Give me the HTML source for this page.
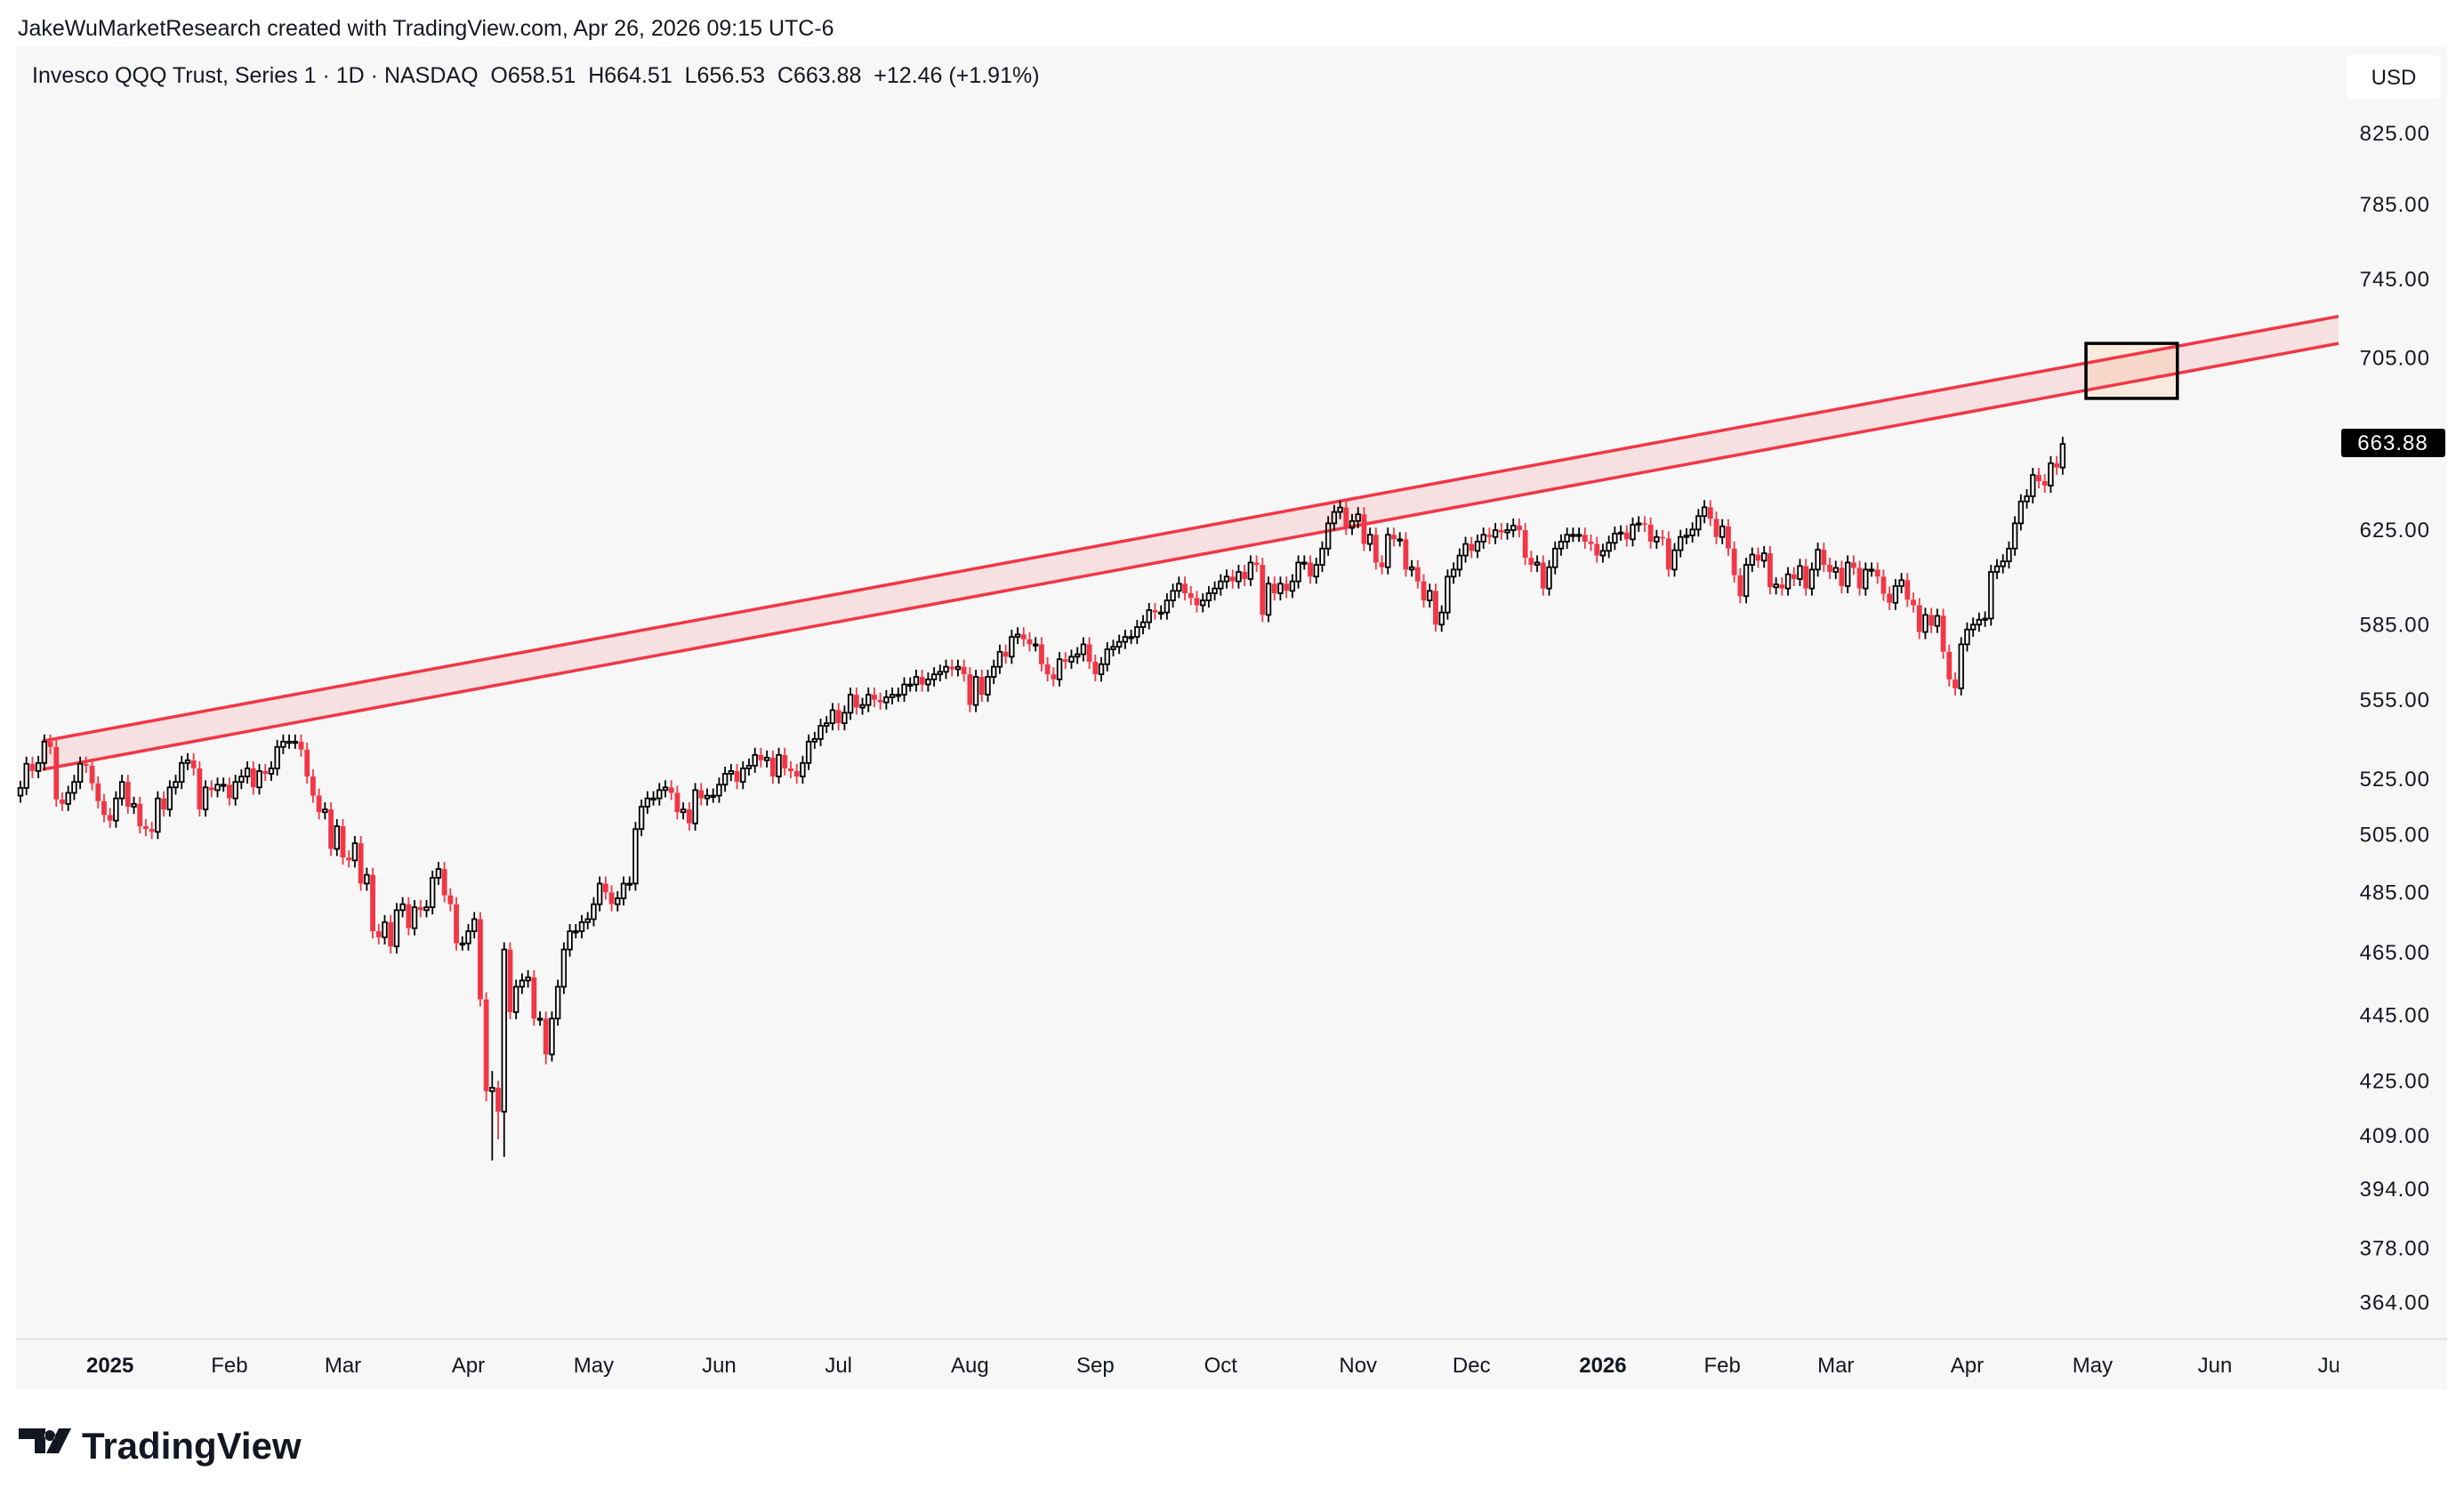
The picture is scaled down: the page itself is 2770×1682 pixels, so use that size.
<!DOCTYPE html>
<html><head><meta charset="utf-8"><style>
html,body{margin:0;padding:0;background:#fff;}
svg{display:block;font-family:"Liberation Sans",sans-serif;}
</style></head><body>
<svg id="chart" width="2770" height="1682" viewBox="0 0 2770 1682" xmlns="http://www.w3.org/2000/svg">
<defs><clipPath id="plotclip"><rect x="18" y="53" width="2611" height="1452"/></clipPath>
<clipPath id="timeclip"><rect x="18" y="1505" width="2611" height="57"/></clipPath></defs>
<text x="20" y="40" font-size="25" fill="#131722">JakeWuMarketResearch created with TradingView.com, Apr 26, 2026 09:15 UTC-6</text>
<rect x="18" y="53" width="2733" height="1509" fill="#f7f7f7"/>
<line x1="18" y1="1505.5" x2="2751" y2="1505.5" stroke="#e0e3eb" stroke-width="2"/>
<text x="36" y="93" font-size="25" fill="#131722" style="white-space:pre" xml:space="preserve">Invesco QQQ Trust, Series 1 · 1D · NASDAQ  O658.51  H664.51  L656.53  C663.88  +12.46 (+1.91%)</text>
<g><rect x="2638" y="62" width="106" height="49" rx="6" fill="#fff"/>
<text x="2691" y="95" font-size="24" fill="#131722" text-anchor="middle">USD</text></g>
<g id="ticks"></g><g id="timelabels" clip-path="url(#timeclip)"></g>
<g id="plot" clip-path="url(#plotclip)"></g>
<g><rect x="2632" y="482" width="117" height="32" rx="3" fill="#000"/>
<text id="lastlbl" x="2690" y="506" font-size="24" fill="#fff" text-anchor="middle" letter-spacing="1">663.88</text></g>
<g>
<path d="M21 1606h30v28h-12v-16h-18z M56 1608a6 6 0 1 0 0.1 0z M66 1606h14l-14 28h-14z" fill="#131722"/>
<text x="92" y="1640" font-size="42" font-weight="bold" fill="#131722">TradingView</text></g>
</svg>
<script>
const tickValues=[825,785,745,705,625,585,555,525,505,485,465,445,425,409,394,378,364];
const monthLabels=["2025","Feb","Mar","Apr","May","Jun","Jul","Aug","Sep","Oct","Nov","Dec","2026","Feb","Mar","Apr","May","Jun","Jul"];
const monthStartIndex=[15,35,54,75,96,117,137,159,180,201,224,243,265,285,304,326,347,367.5,387];
const boldLabels=["2025","2026"];
const closes=[
521.8,530.7,528,531,539,537,517.6,516,520,524,530.7,530,523.5,517,512,
510,518,524,515,516,508,507,506,518,514,522,524,531,532,529,514,522,521,523,523,
518,524,526,529,522,528,527,529,537,539,539,539,536,526,519,513,514,500,508,
497,496,502,488,491,472,470,475,467,479,481,473,480,479,480,490,493,484,481,468,468,
472,476,450,422,423,416,466,446,454,456,457,444,444,433,444,454,466,472,472,475,476,
481,488,485,481,483,488,488,507,515,518,518,521,522,520,513,514,509,521,518,519,519,
523,527,528,524,529,530,534,532,533,526,534,529,528,526,531,539,540,545,546,551,
546,550,557,552,553,557,555,554,556,557,557,561,561,564,561,563,565,566,568,567,568,565,
553,564,557,564,568,574,572,580,581,579,577,577,569,565,563,571,570,572,573,577,570,
565,569,575,576,578,580,580,584,586,591,590,590,595,599,602,598,596,593,595,598,600,
603,605,603,607,604,611,610,589,602,598,602,599,603,611,611,605,610,617,628,633,635,626,629,
632,619,623,611,609,623,621,621,608,609,603,595,599,585,590,605,608,614,619,
616,620,623,622,625,624,625,627,625,613,610,611,600,609,617,620,623,623,623,620,619,614,
616,619.5,623.5,624,621,627.4,628,627.4,620,622,621.4,608,616.3,622,622.7,625.3,631.2,635.1,630,622,
626.7,617,605.6,596.8,610,614.4,611.8,615,600.5,601.7,600,606,604,609.5,600,608,616.5,610,607,
608.7,601,611,608.7,600,608,608,605,597.8,594,601,603.5,595.3,593,582,589,584.5,588.6,574,563,559.5,577,
583,585,587,587.5,607,609.4,611.5,617,628,637.7,640,649.6,646.8,644.8,655,653,663.88];
const firstOpen=[519];
const extremeLowIdx=[78,79,80,81,88];
const extremeLowVal=[419,402,408,403,430];
const extremeHighIdx=[79,81];
const extremeHighVal=[428,467];
const upperLine=[[3.7,539.2],[388.2,725.9]];
const lowerLine=[[3.7,528.6],[388.2,712.3]];
const targetBox=[[345.9,712.3],[361.2,685.4]];

const NS="http://www.w3.org/2000/svg";
const X0=23, STEP=6.713, Y825=150.2, K=1606;
function xs(i){return X0+i*STEP;}
function ys(p){return Y825+(Math.log(825)-Math.log(p))*K;}
function mk(tag,attrs,parent){const e=document.createElementNS(NS,tag);for(const k in attrs)e.setAttribute(k,attrs[k]);parent.appendChild(e);return e;}
const ticksG=document.getElementById('ticks'), timeG=document.getElementById('timelabels'), plot=document.getElementById('plot');
tickValues.forEach(v=>{const t=mk('text',{x:2732,y:ys(v)+8,'font-size':24,fill:'#131722','text-anchor':'end','letter-spacing':1},ticksG);t.textContent=v.toFixed(2);

});
monthLabels.forEach((m,j)=>{const t=mk('text',{x:xs(monthStartIndex[j]),y:1543,'font-size':24,fill:'#131722','text-anchor':'middle','font-weight':boldLabels.includes(m)?'bold':'normal'},timeG);t.textContent=m;

});
const uy0=ys(upperLine[0][1]),uy1=ys(upperLine[1][1]),ly0=ys(lowerLine[0][1]),ly1=ys(lowerLine[1][1]);
const ux0=xs(upperLine[0][0]),ux1=xs(upperLine[1][0]);
const band=mk('polygon',{points:`${ux0},${uy0} ${ux1},${uy1} ${ux1},${ly1} ${ux0},${ly0}`,fill:'rgba(242,54,69,0.12)'},plot);


const bx0=xs(targetBox[0][0]),bx1=xs(targetBox[1][0]),by0=ys(targetBox[0][1]),by1=ys(targetBox[1][1]);
const box=mk('rect',{x:bx0,y:by0,width:bx1-bx0,height:by1-by0,fill:'rgba(255,170,80,0.16)'},plot);


const ul=mk('line',{x1:ux0,y1:uy0,x2:ux1,y2:uy1,stroke:'#f23645','stroke-width':3.5},plot);


const ll=mk('line',{x1:xs(lowerLine[0][0]),y1:ly0,x2:xs(lowerLine[1][0]),y2:ly1,stroke:'#f23645','stroke-width':3.5},plot);


const bb=mk('rect',{x:bx0,y:by0,width:bx1-bx0,height:by1-by0,fill:'none',stroke:'#000','stroke-width':3.5},plot);


closes.forEach((c,i)=>{
  const o=i===0?firstOpen[0]:closes[i-1];
  const up=c>=o;
  let hi=Math.max(o,c)*1.005, lo=Math.min(o,c)*0.995;
  const li=extremeLowIdx.indexOf(i); if(li>=0) lo=Math.min(lo,extremeLowVal[li]);
  const hj=extremeHighIdx.indexOf(i); if(hj>=0) hi=Math.max(hi,extremeHighVal[hj]);
  const x=xs(i), col=up?'#000':'#f23645';
  const g=mk('g',{},plot);
  
  
  const top=ys(Math.max(o,c)), bot=ys(Math.min(o,c));
  mk('line',{x1:x,y1:ys(hi),x2:x,y2:top,stroke:col,'stroke-width':1.8},g);
  mk('line',{x1:x,y1:bot,x2:x,y2:ys(lo),stroke:col,'stroke-width':1.8},g);
  const h=Math.max(bot-top,1.5);
  if(up) mk('rect',{x:x-2.3,y:top,width:4.6,height:h,fill:'none',stroke:'#000','stroke-width':1.8},g);
  else mk('rect',{x:x-2.9,y:top,width:5.8,height:h,fill:'#f23645'},g);
});
</script>
</body></html>
